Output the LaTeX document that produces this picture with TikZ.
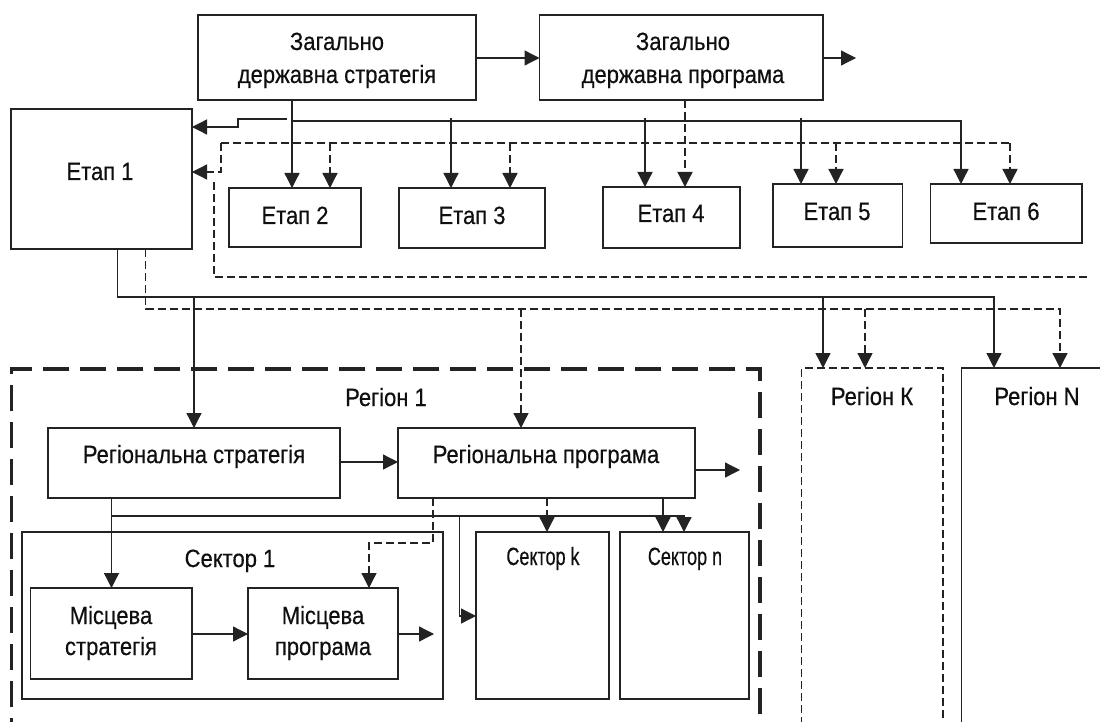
\documentclass[tikz,border=0pt]{standalone}
\usepackage{fontspec}
\setmainfont{Liberation Sans}
\newfontfamily\condfont{Liberation Sans}[FakeStretch=0.88,FakeBold=0.4]
\newfontfamily\narrowfont{Liberation Sans}[FakeStretch=0.72,FakeBold=0.4]
\usetikzlibrary{arrows.meta}
\definecolor{lc}{RGB}{35,35,35}
\definecolor{tc}{RGB}{15,15,15}
\tikzset{
  ln/.style={draw=lc, line width=1.3pt},
  box/.style={draw=lc, line width=1.4pt, inner sep=0pt, outer sep=0pt, anchor=north west},
  arr/.style={-{Triangle[length=15pt,width=15pt]}},
  dsh/.style={dash pattern=on 8pt off 4pt},
  thickdsh/.style={line width=3.2pt, dash pattern=on 26pt off 11pt},
  lab/.style={anchor=base, inner sep=0pt, text=tc, font=\condfont\fontsize{25}{28}\selectfont},
  nlab/.style={anchor=base, inner sep=0pt, text=tc, font=\narrowfont\fontsize{25}{28}\selectfont},
}
\newcommand\mkbox[6][]{%
  \pgfmathsetmacro\bw{#5-#3}\pgfmathsetmacro\bh{#6-#4}%
  \node[box,#1,minimum width=\bw pt,minimum height=\bh pt] (#2) at (#3,#4) {};}
\begin{document}
\begin{tikzpicture}[x=1pt,y=-1pt]
\useasboundingbox (0,0) rectangle (1100,722);
\clip (0,0) rectangle (1100,722);
\fill[white] (0,0) rectangle (1100,722);

% boxes
\mkbox{strat}{198}{15}{476}{100}
\mkbox{prog}{539.5}{15}{823}{100}
\mkbox{e1}{11}{109}{192}{249}
\mkbox{e2}{229}{188}{361}{247}
\mkbox{e3}{399}{188}{545}{248}
\mkbox{e4}{603}{187}{740}{248}
\mkbox{e5}{773}{184}{902.5}{247}
\mkbox{e6}{930.5}{184}{1082}{243}
\mkbox[thickdsh]{reg1}{11.6}{369}{760}{780}
\mkbox[dsh]{regK}{801.5}{368}{943}{780}
\mkbox{regN}{961.5}{368}{1130}{780}
\mkbox{rs}{48}{428}{340}{498}
\mkbox{rp}{398}{428}{695}{498}
\mkbox{sec1}{22}{532}{443}{699}
\mkbox{ms}{30.5}{588}{192}{679}
\mkbox{mp}{248}{588}{398}{679}
\mkbox{seck}{476}{532}{609}{699}
\mkbox{secn}{620}{532}{749}{699}

% labels
\node[lab] (t1) at (337,50) {Загально};
\node[lab] (t2) at (337,83) {державна стратегія};
\node[lab] (t3) at (683,50) {Загально};
\node[lab] (t4) at (683,83) {державна програма};
\node[lab] (t5) at (100,180) {Етап 1};
\node[lab] (t6) at (295,224) {Етап 2};
\node[lab] (t7) at (472,224) {Етап 3};
\node[lab] (t8) at (671,222) {Етап 4};
\node[lab] (t9) at (837,220) {Етап 5};
\node[lab] (t10) at (1006,220) {Етап 6};
\node[lab] (t11) at (386,406) {Регіон 1};
\node[lab] (t12) at (872,405) {Регіон К};
\node[lab] (t13) at (1037,405) {Регіон N};
\node[lab] (t14) at (194,463) {Регіональна стратегія};
\node[lab] (t15) at (546,463) {Регіональна програма};
\node[lab] (t16) at (230,567) {Сектор 1};
\node[lab] (t17) at (111,624) {Місцева};
\node[lab] (t18) at (111,655) {стратегія};
\node[lab] (t19) at (323,624) {Місцева};
\node[lab] (t20) at (323,655) {програма};
\node[nlab] (t21) at (543,565) {Сектор k};
\node[nlab] (t22) at (685,565) {Сектор n};

% free ends
\coordinate (po) at (856,58);
\coordinate (rpo) at (740,470);
\coordinate (mpo) at (434,634);

% top level
\draw[ln,arr] (strat.east |- 0,58) -- (prog.west |- 0,58);
\draw[ln,arr] (prog.east |- po) -- (po);
\draw[ln,arr] (292,0 |- strat.south) -- (292,0 |- e2.north);
\draw[ln,arr] (292,121) -- (961,121) -- (961,0 |- e6.north);
\draw[ln,arr] (451,118) -- (451,0 |- e3.north);
\draw[ln,arr] (645,118) -- (645,0 |- e4.north);
\draw[ln,arr] (801,118) -- (801,0 |- e5.north);
\draw[ln,arr] (287,119) -- (238,119) -- (238,127) -- (e1.east |- 0,127);

\draw[ln,dsh,arr] (685,0 |- prog.south) -- (685,0 |- e4.north);
\draw[ln,dsh] (221,143) -- (1010,143);
\draw[ln,dsh,arr] (221,143) -- (221,172) -- (e1.east |- 0,172);
\draw[ln,dsh,arr] (330,143) -- (330,0 |- e2.north);
\draw[ln,dsh,arr] (510,143) -- (510,0 |- e3.north);
\draw[ln,dsh,arr] (836,143) -- (836,0 |- e5.north);
\draw[ln,dsh,arr] (1010,143) -- (1010,0 |- e6.north);
\draw[ln,dsh] (214,182) -- (214,277) -- (1087,277);

% to regions
\draw[ln,arr] (117.5,0 |- e1.south) -- (117.5,297) -- (994,297) -- (994,0 |- regN.north);
\draw[ln,arr] (194,297) -- (194,0 |- rs.north);
\draw[ln,arr] (823,297) -- (823,0 |- regK.north);
\draw[ln,dsh,arr] (145.6,0 |- e1.south) -- (145.6,309) -- (1060,309) -- (1060,0 |- regN.north);
\draw[ln,dsh,arr] (521,309) -- (521,0 |- rp.north);
\draw[ln,dsh,arr] (865,309) -- (865,0 |- regK.north);

% region internals
\draw[ln,arr] (rs.east |- 0,462) -- (rp.west |- 0,462);
\draw[ln,arr] (rp.east |- rpo) -- (rpo);
\draw[ln,arr] (111.5,0 |- rs.south) -- (111.5,0 |- ms.north);
\draw[ln,arr] (111.5,516) -- (684,516) -- (684,0 |- secn.north);
\draw[ln,arr] (459.5,516) -- (459.5,616) -- (seck.west |- 0,616);
\draw[ln,arr] (663,0 |- rp.south) -- (663,0 |- secn.north);
\draw[ln,dsh,arr] (547,0 |- rp.south) -- (547,0 |- seck.north);
\draw[ln,dsh,arr] (433,0 |- rp.south) -- (433,543) -- (369,543) -- (369,0 |- mp.north);
\draw[ln,arr] (ms.east |- 0,634) -- (mp.west |- 0,634);
\draw[ln,arr] (mp.east |- mpo) -- (mpo);
\end{tikzpicture}
\end{document}
